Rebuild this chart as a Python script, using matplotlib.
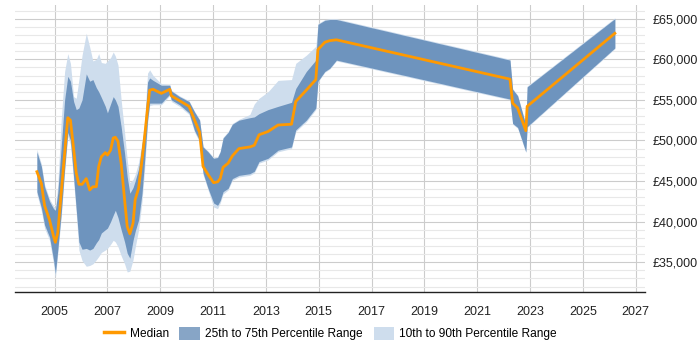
import matplotlib
matplotlib.use('Agg')
import matplotlib.pyplot as plt
from matplotlib.ticker import MultipleLocator, FuncFormatter
from matplotlib.lines import Line2D
from matplotlib.patches import Patch

plt.rcParams['font.family'] = ['Liberation Sans', 'DejaVu Sans']

# decimal years
dates = [2004.33, 2004.5, 2004.62, 2004.81, 2004.96, 2005.03, 2005.12, 2005.25, 2005.38, 2005.5,
         2005.6, 2005.72, 2005.82, 2005.92, 2006.04, 2006.2, 2006.33, 2006.45, 2006.58, 2006.67,
         2006.77, 2006.92, 2007.0, 2007.12, 2007.22, 2007.3, 2007.4, 2007.52, 2007.65, 2007.75,
         2007.85, 2007.97, 2008.05, 2008.18, 2008.31, 2008.41, 2008.52, 2008.6, 2008.73, 2009.04,
         2009.36, 2009.42, 2009.73, 2010.09, 2010.3, 2010.49, 2010.62, 2010.81, 2011.02, 2011.17,
         2011.27, 2011.38, 2011.57, 2011.73, 2011.98, 2012.39, 2012.56, 2012.74, 2013.08, 2013.46,
         2013.97, 2014.13, 2014.53, 2014.89, 2014.97, 2015.23, 2015.42, 2015.67, 2022.24, 2022.34,
         2022.53, 2022.84, 2022.89, 2026.21]

median = [46150, 44700, 42000, 40200, 38200, 37450, 38600, 43500, 48400, 52800,
          52500, 49000, 46000, 44600, 44600, 45300, 43900, 44300, 44300, 46800,
          48000, 48500, 48200, 48800, 50300, 50400, 49900, 47200, 42700, 39400,
          38500, 39800, 42700, 44100, 47600, 50500, 54000, 56200, 56300, 55800,
          56300, 55500, 54900, 54200, 52500, 51000, 46800, 45800, 44800, 44900,
          45300, 46700, 47200, 48100, 49000, 49200, 49400, 50700, 51100, 51900,
          52000, 54800, 56200, 57500, 61200, 62100, 62300, 62400, 57550, 54600,
          54000, 51200, 54200, 63200]

p25 = [43700, 41700, 39600, 38100, 35300, 33600, 36500, 41000, 46500, 51000,
       50000, 45500, 41500, 37500, 36600, 36700, 36500, 36700, 37400, 37800,
       38600, 39000, 39200, 40000, 40800, 41400, 40500, 39000, 37500, 36100,
       35500, 37700, 38800, 40200, 43500, 47600, 52500, 54600, 54600, 54600,
       55700, 55000, 54400, 53400, 51200, 50000, 46000, 44100, 42300, 42000,
       42600, 43700, 44100, 45300, 45700, 45900, 46200, 47400, 47800, 48800,
       49200, 51300, 52500, 54000, 57300, 58500, 58900, 59900, 55100, 52100,
       51600, 48600, 51700, 61400]

p75 = [48600, 46800, 44300, 42500, 41600, 41400, 43500, 49200, 55000, 57900,
       57300, 54800, 53800, 54000, 55000, 58200, 57300, 57500, 56500, 56000,
       55300, 54200, 53400, 54500, 55400, 55000, 54200, 51700, 48400, 45500,
       43500, 44200, 45000, 46500, 49500, 51800, 57200, 57700, 57400, 56800,
       56800, 56100, 55400, 54800, 53500, 52500, 49200, 48600, 47800, 47900,
       48600, 50300, 51000, 52000, 52500, 52800, 52900, 53300, 53800, 54200,
       54700, 56400, 58500, 59900, 64300, 64800, 64900, 64900, 59900, 56300,
       55500, 51900, 56600, 65000]

p10 = [43400, 41300, 39200, 37700, 34800, 33100, 36000, 40500, 46000, 50500,
       49500, 45000, 41000, 36500, 35200, 34500, 34600, 34800, 35300, 35700,
       36200, 36500, 36700, 37200, 37700, 37500, 36900, 35800, 34800, 33800,
       33900, 35300, 36800, 39000, 42500, 46500, 52000, 54300, 54400, 54400,
       55500, 54800, 54200, 53200, 51000, 49800, 45800, 43900, 41800, 41600,
       42300, 43400, 43900, 45100, 45500, 45700, 46000, 47200, 47600, 48600,
       49000, 51100, 52300, 53800, 57200, 58400, 58800, 59800, 55000, 52000,
       51500, 48500, 51600, 61300]

p90 = [48900, 47100, 44600, 42800, 41900, 41700, 44500, 52500, 58500, 60700,
       59500, 55400, 55200, 57500, 60500, 63200, 61500, 59800, 60000, 60700,
       59600, 59500, 59800, 60200, 60900, 60400, 59300, 55000, 51000, 47600,
       44800, 45200, 45800, 47300, 49800, 52500, 58300, 58700, 58000, 57000,
       56900, 56200, 55500, 54900, 53600, 52600, 49300, 48700, 47900, 48000,
       48700, 50400, 51100, 52100, 52600, 53200, 54500, 55200, 56000, 57400,
       57500, 59500, 60500, 61600, 64400, 64900, 65000, 65000, 60000, 56400,
       55600, 52000, 56700, 65100]

year_ticks = list(range(2005, 2028, 2))

col_med = '#ff9900'
col_iqr = '#6e94be'
col_outer = '#cedded'

fig = plt.figure(figsize=(7, 3.5), dpi=100)
ax = fig.add_axes([0.021, 0.165, 0.900, 0.821])

ax.fill_between(dates, p10, p90, color=col_outer, lw=0, zorder=2)
ax.fill_between(dates, p25, p75, color=col_iqr, lw=0, zorder=3)
ax.plot(dates, median, color=col_med, lw=2, zorder=4)

ax.set_xlim(2003.49, 2027.34)
ax.set_ylim(31300, 66700)
ax.set_xticks(year_ticks)
ax.yaxis.set_major_locator(MultipleLocator(5000))
ax.yaxis.set_minor_locator(MultipleLocator(1000))
ax.yaxis.set_major_formatter(FuncFormatter(lambda v, p: '£{:,.0f}'.format(v)))

# grid: darker every 5000, faint every 1000, verticals on the year ticks
ax.grid(which='major', axis='both', color='#cccccc', lw=0.8, zorder=0)
ax.grid(which='minor', axis='y', color='#e8e8e8', lw=0.8, zorder=0)
ax.set_axisbelow(True)

ax.yaxis.tick_right()
ax.tick_params(axis='y', which='both', length=0, pad=6, labelsize=9, labelcolor='#222222')
ax.tick_params(axis='x', length=0, pad=10, labelsize=9, labelcolor='#222222')

for s in ['top', 'right', 'left']:
    ax.spines[s].set_visible(False)
ax.spines['bottom'].set_color('#222222')
ax.spines['bottom'].set_linewidth(1)

handles = [Line2D([], [], color=col_med, lw=2.5),
           Patch(facecolor='#87a5c6', edgecolor='none'),
           Patch(facecolor=col_outer, edgecolor='none')]
labels = ['Median', '25th to 75th Percentile Range', '10th to 90th Percentile Range']
fig.legend(handles, labels, loc='center', bbox_to_anchor=(0.472, 0.047), ncol=3, frameon=False,
           fontsize=8.6, handlelength=1.7, handleheight=1.35, columnspacing=0.9, handletextpad=0.45)

fig.savefig('out.png', dpi=100)
